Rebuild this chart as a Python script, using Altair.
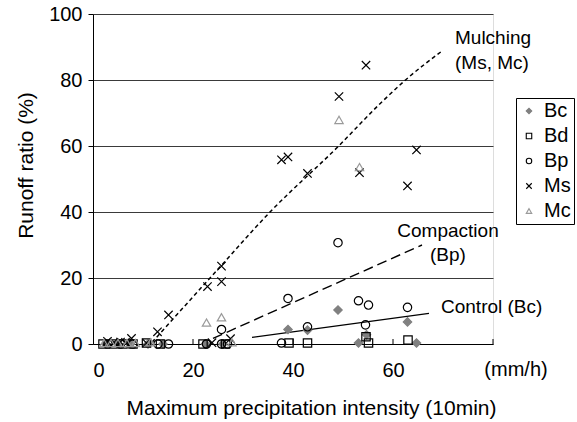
import altair as alt
import pandas as pd

FONT = "Liberation Sans"

series_names = ["Bc", "Bd", "Bp", "Ms", "Mc"]

bc_x = [2.5, 5, 7.5, 11, 14, 22.5, 26, 39, 42.9, 49, 53.1, 54.7, 62.9, 64.7]
bc_y = [0, 0, 0, 0, 0, 0, 0, 4.4, 4.2, 10.3, 0.3, 2.8, 6.7, 0.3]

bd_x = [2, 4, 6, 8, 10.7, 13.5, 22, 26.5, 39.2, 42.9, 54.6, 55.1, 63]
bd_y = [0, 0, 0, 0, 0.3, 0, 0, 0, 0.3, 0.3, 2.2, 0.3, 1.2]

bp_x = [3, 5.5, 8, 13, 15.1, 22.7, 25.7, 25.7, 26.9, 37.7, 39, 42.9, 49, 53.1, 54.5, 55.1, 62.9]
bp_y = [0, 0, 0, 0, 0, 0, 4.4, 0, 0, 0.3, 13.8, 5.2, 30.7, 13.1, 5.8, 11.8, 11.1]

ms_x = [2.9, 4.2, 5.5, 6.5, 7.7, 10.7, 12.9, 15.1, 22.9, 23.8, 25.7, 25.7, 27.5,
        37.7, 39, 42.9, 49.2, 53.3, 54.6, 62.9, 64.7]
ms_y = [0.8, 0.5, 0.6, 0.5, 1.7, 0.3, 3.7, 8.8, 17.4, 0.4, 23.6, 18.9, 1.6,
        55.8, 56.7, 51.7, 75, 51.9, 84.5, 47.9, 58.8]

mc_x = [2.2, 3.6, 5, 6.8, 8.5, 11.5, 22.7, 25.7, 27.8, 49.2, 53.3]
mc_y = [0.3, 0.3, 0.3, 0.3, 0.3, 0.5, 6.5, 8.1, 0.5, 67.9, 53.6]

# trend lines
mulch_x = [11.8, 24, 35.8, 49, 57.4, 62.5, 70]
mulch_y = [0.5, 21, 40.6, 59.8, 72.8, 80, 89]
compact_x = [24, 65.8]
compact_y = [1.7, 30]
control_x = [31.8, 67.2]
control_y = [2, 9.3]

# annotation texts
ann_text = ["Mulching", "(Ms, Mc)", "Compaction", "(Bp)", "Control (Bc)"]
ann_x = [72.4, 72.4, 71, 71, 69.6]
ann_y = [92.7, 85.2, 34.2, 27, 11.2]
ann_align = ["left", "left", "center", "center", "left"]

xtick_vals = [20, 40, 60, 80]
xlabel_vals = [0, 20, 40, 60]
unit_label = "(mm/h)"

rows = []
for name, xs_, ys_ in [("Bc", bc_x, bc_y), ("Bd", bd_x, bd_y), ("Bp", bp_x, bp_y),
                       ("Ms", ms_x, ms_y), ("Mc", mc_x, mc_y)]:
    for a, b in zip(xs_, ys_):
        rows.append({"series": name, "x": a, "y": b})
pts = pd.DataFrame(rows)

xs = alt.Scale(domain=[0, 80], nice=False)
ys = alt.Scale(domain=[0, 100], nice=False)

legend = alt.Legend(
    title=None, orient="none", legendX=423, legendY=84,
    strokeColor="black", fillColor="white", padding=3, rowPadding=5,
    labelFontSize=20, labelFont=FONT, labelColor="black",
    symbolSize=30, symbolStrokeWidth=1.1, labelOffset=5,
)

shape_range = ["diamond", "square", "circle", "M-1,-1L1,1M-1,1L1,-1", "triangle-up"]
stroke_range = ["#808080", "#000000", "#000000", "#000000", "#9a9a9a"]
fill_range = ["#808080", "transparent", "transparent", "transparent", "transparent"]

points = alt.Chart(pts).mark_point(size=70, strokeWidth=1.2, opacity=1).encode(
    x=alt.X("x:Q", scale=xs, axis=alt.Axis(
        values=xlabel_vals, title="Maximum precipitation intensity (10min)",
        grid=False, ticks=False, tickSize=0, domainColor="black", domainWidth=1,
        labelFontSize=20, labelFont=FONT, labelColor="black", labelPadding=26,
        labelBaseline="middle",
        titleFontSize=21, titleFont=FONT, titleFontWeight="normal", titleColor="black",
        titleX=218, titleY=64, titleBaseline="middle", titleAlign="center")),
    y=alt.Y("y:Q", scale=ys, axis=alt.Axis(
        values=[0, 20, 40, 60, 80, 100], title="Runoff ratio (%)",
        grid=True, gridColor="#3a3a3a", gridWidth=1,
        tickSize=5, tickColor="black", domainColor="black", domainWidth=1,
        labelFontSize=20, labelFont=FONT, labelColor="black", labelPadding=6,
        titleFontSize=21, titleFont=FONT, titleFontWeight="normal", titleColor="black",
        titleX=-67, titleY=151, titleAlign="center", titleBaseline="middle")),
    shape=alt.Shape("series:N", scale=alt.Scale(domain=series_names, range=shape_range), legend=legend),
    stroke=alt.Stroke("series:N", scale=alt.Scale(domain=series_names, range=stroke_range), legend=legend),
    fill=alt.Fill("series:N", scale=alt.Scale(domain=series_names, range=fill_range), legend=legend),
)

mulch = alt.Chart(pd.DataFrame({"x": mulch_x, "y": mulch_y})).mark_line(
    color="black", strokeWidth=1.5, strokeDash=[4, 3], interpolate="monotone"
).encode(x=alt.X("x:Q", scale=xs), y=alt.Y("y:Q", scale=ys))

compact = alt.Chart(pd.DataFrame({"x": compact_x, "y": compact_y})).mark_line(
    color="black", strokeWidth=1.4, strokeDash=[10, 5]
).encode(x=alt.X("x:Q", scale=xs), y=alt.Y("y:Q", scale=ys))

control = alt.Chart(pd.DataFrame({"x": control_x, "y": control_y})).mark_line(
    color="black", strokeWidth=1.2
).encode(x=alt.X("x:Q", scale=xs), y=alt.Y("y:Q", scale=ys))

xticks = alt.Chart(pd.DataFrame({"x": xtick_vals})).mark_rule(color="black", strokeWidth=1).encode(
    x=alt.X("x:Q", scale=xs), y=alt.value(330), y2=alt.value(325)
)

ann = alt.Chart(pd.DataFrame({"t": ann_text, "x": ann_x, "y": ann_y, "a": ann_align}))
ann_left = ann.transform_filter("datum.a == 'left'").mark_text(
    align="left", baseline="middle", fontSize=19, font=FONT, color="black"
).encode(x=alt.X("x:Q", scale=xs), y=alt.Y("y:Q", scale=ys), text="t:N")
ann_center = ann.transform_filter("datum.a == 'center'").mark_text(
    align="center", baseline="middle", fontSize=19, font=FONT, color="black"
).encode(x=alt.X("x:Q", scale=xs), y=alt.Y("y:Q", scale=ys), text="t:N")

unit = alt.Chart(pd.DataFrame({"t": [unit_label]})).mark_text(
    align="center", baseline="middle", fontSize=20, font=FONT, color="black"
).encode(x=alt.value(423), y=alt.value(356), text="t:N")

chart = alt.layer(mulch, compact, control, xticks, points, ann_left, ann_center, unit).properties(
    width=400, height=330,
    autosize=alt.AutoSizeParams(type="none"),
    padding={"left": 93, "top": 14, "right": 84, "bottom": 78},
    background="white",
).configure_view(stroke=None).configure(font=FONT)

chart.save("out.html", embed_options={"renderer": "svg", "actions": False})
